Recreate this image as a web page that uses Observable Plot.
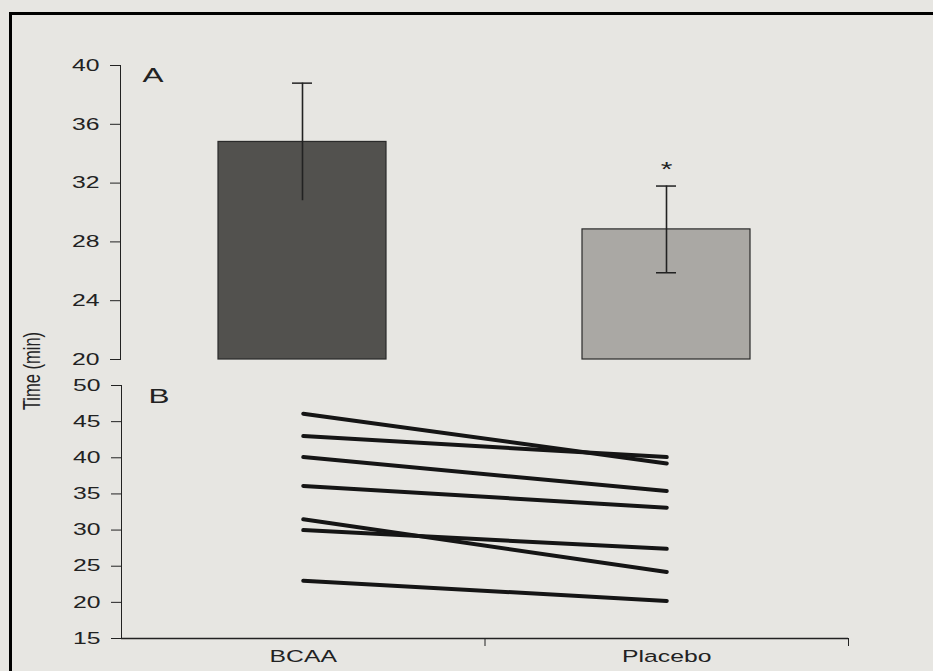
<!DOCTYPE html>
<html>
<head>
<meta charset="utf-8">
<script src="https://cdn.jsdelivr.net/npm/d3@7"></script>
<script src="https://cdn.jsdelivr.net/npm/@observablehq/plot@0.6"></script>
<style>
  body { margin: 0; background: #e7e6e2; }
  #wrap { position: relative; width: 933px; height: 671px; overflow: hidden; background: #e7e6e2; }
  #frameTop { position: absolute; left: 9px; top: 12px; right: 0; height: 3px; background: #000; }
  #frameLeft { position: absolute; left: 9px; top: 12px; width: 3px; bottom: 0; background: #000; }
  #a { position: absolute; left: 0; top: 0; }
  #b { position: absolute; left: 0; top: 372px; }
  #ylab { position: absolute; left: 32px; top: 371px; transform: translate(-50%, -50%) scaleX(1.45) rotate(-90deg);
          font: 16.5px "Liberation Sans", Arial, sans-serif; white-space: nowrap; color: #222; }
</style>
</head>
<body>
<div id="wrap">
  <div id="frameTop"></div>
  <div id="frameLeft"></div>
  <div id="a"></div>
  <div id="b"></div>
  <div id="ylab">Time (min)</div>
</div>
<script>
// ---- Data ----
const groups = ["BCAA", "Placebo"];
const means = [34.8, 28.85];
const sds = [4.0, 2.95];
const yTicksA = [20, 24, 28, 32, 36, 40];
const barColors = ["#52514e", "#aaa8a4"];

const subjectsBCAA = [46.1, 43.0, 40.1, 36.1, 31.5, 30.0, 23.0];
const subjectsPlacebo = [39.2, 40.1, 35.4, 33.1, 24.2, 27.4, 20.2];
const yTicksB = [15, 20, 25, 30, 35, 40, 45, 50];

// ---- Derived tables ----
const barData = groups.map((g, i) => ({group: g, mean: means[i], lo: means[i] - sds[i], hi: means[i] + sds[i]}));
const pairData = [];
subjectsBCAA.forEach((v, i) => {
  pairData.push({subject: i, pos: 0.5, time: v});
  pairData.push({subject: i, pos: 1.5, time: subjectsPlacebo[i]});
});

const font = "'Liberation Sans', Arial, sans-serif";

// The printed figure was photographed with a horizontal stretch: widen glyphs around their anchor.
function stretchText(svg) {
  svg.querySelectorAll("text").forEach(t => {
    let tr = t.getAttribute("transform");
    if (!tr) {
      const x = t.getAttribute("x") || 0, y = t.getAttribute("y") || 0;
      t.removeAttribute("x"); t.removeAttribute("y");
      tr = `translate(${x},${y})`;
    }
    t.setAttribute("transform", tr + " scale(1.5,1)");
  });
}

const plotA = Plot.plot({
  width: 933, height: 372,
  marginLeft: 120, marginRight: 85, marginTop: 65, marginBottom: 13,
  style: {background: "transparent", fontFamily: font, fontSize: "16.5px", color: "#222"},
  x: {domain: groups, padding: 0, axis: null},
  y: {domain: [20, 40], ticks: yTicksA, line: true, tickSize: 10, tickPadding: 11, label: null},
  color: {domain: groups, range: barColors},
  marks: [
    Plot.barY(barData, {x: "group", y1: 20, y2: "mean", fill: "group", stroke: "#2a2a2a", strokeWidth: 1.2, insetLeft: 98, insetRight: 98}),
    Plot.ruleX(barData, {x: "group", y1: "lo", y2: "hi", stroke: "#222", strokeWidth: 1.6}),
    Plot.tickY(barData, {x: "group", y: "hi", stroke: "#222", strokeWidth: 1.5, insetLeft: 172, insetRight: 172}),
    Plot.tickY(barData.filter(d => d.group === "Placebo"), {x: "group", y: "lo", stroke: "#222", strokeWidth: 1.5, insetLeft: 172, insetRight: 172}),
    Plot.text(barData.filter(d => d.group === "Placebo"), {x: "group", y: "hi", text: () => "*", dy: -16, fontSize: 20, fill: "#222"}),
    Plot.text(["A"], {frameAnchor: "top-left", text: d => d, dx: 22, dy: 2, fontSize: 21, textAnchor: "start", fill: "#222"})
  ]
});
stretchText(plotA);
document.getElementById("a").appendChild(plotA);

const plotB = Plot.plot({
  width: 933, height: 299,
  marginLeft: 121, marginRight: 85, marginTop: 13, marginBottom: 33,
  style: {background: "transparent", fontFamily: font, fontSize: "16.5px", color: "#222"},
  x: {domain: [0, 2], axis: null},
  y: {domain: [15, 50], ticks: yTicksB, line: true, tickSize: 10, tickPadding: 11, label: null},
  marks: [
    Plot.ruleY([15], {stroke: "#222", strokeWidth: 1.5}),
    Plot.axisX({ticks: [1, 2], tickSize: 8, tickFormat: () => "", label: null}),
    Plot.axisX({ticks: [0.5, 1.5], tickSize: 0, tickPadding: 12, tickFormat: d => groups[Math.floor(d)], label: null}),
    Plot.line(pairData, {x: "pos", y: "time", z: "subject", stroke: "#151515", strokeWidth: 4}),
    Plot.text(["B"], {frameAnchor: "top-left", text: d => d, dx: 27, dy: 3, fontSize: 21, textAnchor: "start", fill: "#222"})
  ]
});
stretchText(plotB);
document.getElementById("b").appendChild(plotB);
</script>
</body>
</html>
